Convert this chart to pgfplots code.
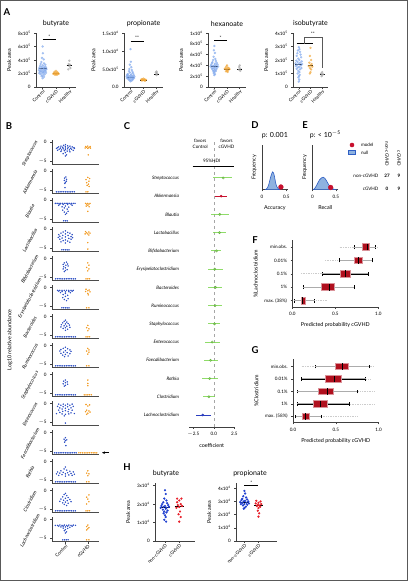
\documentclass[border=0pt]{standalone}
\usepackage{fontspec}
\setmainfont{Lato}
\usepackage{pgfplots}
\pgfplotsset{compat=1.18}
\usepgfplotslibrary{statistics}
\usetikzlibrary{arrows.meta}

\newcommand{\ft}{\fontsize{4.6}{5.5}\selectfont}
\newcommand{\fs}{\fontsize{4.8}{5.8}\selectfont}
\newcommand{\fl}{\fontsize{5.4}{6.4}\selectfont}
\newcommand{\fT}{\fontsize{7}{8}\selectfont}
\newcommand{\fP}{\fontsize{9.5}{10}\selectfont\bfseries}
\newcommand{\e}[1]{\textsuperscript{#1}}

\definecolor{ablue}{HTML}{7FA8EE}
\definecolor{aorange}{HTML}{F2A93B}
\definecolor{agray}{HTML}{A8A8A8}
\definecolor{bblue}{HTML}{2D4FC4}
\definecolor{borange}{HTML}{F39A1E}
\definecolor{cgreen}{HTML}{7CD64F}
\definecolor{cred}{HTML}{C8102E}
\definecolor{cblue}{HTML}{2A3DBF}
\definecolor{boxred}{HTML}{B0101E}
\definecolor{hblue}{HTML}{2040D0}
\definecolor{hred}{HTML}{E8202A}
\definecolor{nullblue}{HTML}{8EB2E0}
\definecolor{nulledge}{HTML}{2F5FC4}

\pgfplotsset{
 pr/.style={scale only axis, axis x line*=bottom, axis y line*=left, tick align=outside, clip=false,
   /pgf/number format/assume math mode=true,
   tick label style={font=\ft}, label style={font=\fl}, title style={font=\fT},
   major tick length=1.8pt, axis line style={line width=0.6pt, black!75},
   every tick/.style={black!75, line width=0.5pt}},
 pa/.style={pr, height=54pt, xmin=-0.5, xmax=2.5, ymin=0, xtick={0,1,2},
   xticklabels={Control,cGVHD,Healthy},
   xticklabel style={rotate=45, anchor=north east, inner sep=0.5pt},
   ylabel={Peak area}, title style={yshift=-3pt}},
 sa/.style={only marks, mark=*, mark size=1pt, fill opacity=0.6, draw opacity=0.6},
 bpan/.style={pr, width=47pt, height=25pt, xmin=-0.6, xmax=1.5, ymin=-5.9, ymax=0.7,
   ytick={-5,0}, yticklabels={{$-$5},0}, xtick=\empty,
   x axis line style={line width=0.9pt, black!70}},
 hp/.style={pr, xtick={0,1}, xticklabels={non-cGVHD,cGVHD},
   xticklabel style={rotate=45, anchor=north east, inner sep=0.5pt}, ylabel={Peak area}},
 bxp/.style={pr, xmin=0, xmax=1, ymin=0.5, xtick={0,0.5,1}, xticklabels={0.0,0.5,1.0},
   ytick={1,2,3,4,5}, xlabel={Predicted probability cGVHD},
   boxplot/every box/.style={draw=boxred!45, fill=boxred, line width=0.7pt},
   boxplot/every median/.style={black, line width=1pt},
   boxplot/every whisker/.style={black, line width=0.5pt}},
}

\newcommand{\bpanel}[5]{%
\begin{axis}[bpan, at={(52pt,#2pt)}, anchor=south west, #1]
\addplot[only marks, mark=*, mark size=0.5pt, bblue] coordinates {#4};
\addplot[only marks, mark=*, mark size=0.5pt, borange] coordinates {#5};
\end{axis}
\node[rotate=62, font=\fs\itshape, inner sep=0pt] at (30pt,{#2pt+11.5pt}) {#3};
}

\newcommand{\brow}[8]{%
 \addplot[gray!40, densely dotted, line width=0.7pt] coordinates {(#2,#1) (#8,#1)};
 \addplot[boxplot prepared={draw position=#1, lower whisker=#3, lower quartile=#4, median=#5, upper quartile=#6, upper whisker=#7, box extend=0.5, whisker extend=0.3}] coordinates {};
 \addplot[gray!65, line width=0.9pt] coordinates {(#3,#1) (#4,#1)};
 \addplot[gray!65, line width=0.9pt] coordinates {(#6,#1) (#7,#1)};
}

\begin{document}
\begin{tikzpicture}
\useasboundingbox (0,0) rectangle (408pt,581pt);
\fill[white] (0,0) rectangle (408pt,581pt);

% ---------- panel letters ----------
\node[font=\fP] at (7pt,{581pt-12pt}) {A};
\node[font=\fP] at (9pt,{581pt-126pt}) {B};
\node[font=\fP] at (127pt,{581pt-126pt}) {C};
\node[font=\fP] at (255pt,{581pt-125pt}) {D};
\node[font=\fP] at (305pt,{581pt-125pt}) {E};
\node[font=\fP] at (255pt,{581pt-240pt}) {F};
\node[font=\fP] at (255pt,{581pt-350pt}) {G};
\node[font=\fP] at (127pt,{581pt-467pt}) {H};

% ================= A =================
\begin{axis}[pa, at={(36pt,494pt)}, anchor=south west, width=40pt, ymax=8,
  ytick={0,2,4,6,8}, yticklabels={0,2x10\e{5},4x10\e{5},6x10\e{5},8x10\e{5}}, title={butyrate}]
\addplot[sa, ablue] coordinates {(0,6.0)(0.02,5.0)(-0.05,4.3)(0.08,4.1)(-0.1,3.7)(0.1,3.5)(-0.15,3.4)(0.2,3.3)(0,3.2)(-0.2,3.1)(0.15,3.0)(-0.08,2.95)(0.25,2.9)(0.05,2.85)(-0.25,2.8)(0.12,2.75)(-0.15,2.7)(0.28,2.65)(-0.02,2.6)(0.18,2.55)(-0.28,2.5)(0.08,2.45)(-0.12,2.4)(0.22,2.35)(-0.2,2.3)(0.02,2.25)(0.12,2.2)(-0.08,2.15)(0.25,2.1)(-0.25,2.05)(0.05,2.0)(-0.15,1.9)(0.15,1.85)(0,1.7)(-0.08,1.6)(0.1,1.5)(0,1.3)};
\addplot[sa, aorange] coordinates {(1,2.4)(0.9,2.25)(1.1,2.2)(0.85,2.1)(1.0,2.1)(1.15,2.05)(0.92,2.0)(1.08,1.98)(0.8,1.95)(1.2,1.95)(1.0,1.9)(0.9,1.85)(1.1,1.85)(1.0,1.8)};
\addplot[sa, agray] coordinates {(2,3.9)(1.95,3.4)(2.05,3.3)(2,3.1)(1.92,2.6)(2.08,2.8)};
\addplot[black, line width=0.7pt] coordinates {(-0.3,2.7)(0.3,2.7)};
\addplot[black, line width=0.7pt] coordinates {(0.75,2.05)(1.25,2.05)};
\addplot[black, line width=0.7pt] coordinates {(1.8,3.2)(2.2,3.2)};
\addplot[black, line width=0.6pt] coordinates {(0,7)(1,7)};
\node[font=\ft] at (axis cs:0.5,7.45) {*};
\end{axis}

\begin{axis}[pa, at={(124pt,494pt)}, anchor=south west, width=39pt, ymax=15,
  ytick={0,5,10,15}, yticklabels={0.0,5.0x10\e{5},1.0x10\e{6},1.5x10\e{6}}, title={propionate}]
\addplot[sa, ablue] coordinates {(0,10.5)(0.03,7.0)(-0.05,6.2)(0.06,5.5)(-0.08,5.0)(0.1,4.7)(-0.12,4.4)(0.15,4.2)(-0.05,4.0)(0.2,3.8)(-0.2,3.6)(0.05,3.5)(-0.25,3.4)(0.25,3.3)(0,3.2)(-0.15,3.1)(0.15,3.0)(-0.3,3.0)(0.3,2.9)(-0.05,2.8)(0.1,2.8)(-0.2,2.7)(0.22,2.6)(0,2.6)(-0.28,2.5)(0.28,2.5)(-0.1,2.4)(0.12,2.3)(-0.18,2.2)(0.18,2.1)(0,2.0)(-0.1,1.9)(0.1,1.8)(0,1.6)};
\addplot[sa, aorange] coordinates {(1,2.3)(0.9,2.2)(1.1,2.1)(0.82,2.05)(1,2.0)(1.18,2.0)(0.9,1.95)(1.1,1.9)(0.95,1.9)(1.05,1.85)(0.88,1.8)(1.12,1.75)};
\addplot[sa, agray] coordinates {(2,4.3)(1.95,4.0)(2.05,3.8)(2,3.6)(2,3.3)};
\addplot[black, line width=0.7pt] coordinates {(-0.3,2.8)(0.3,2.8)};
\addplot[black, line width=0.7pt] coordinates {(0.75,1.95)(1.25,1.95)};
\addplot[black, line width=0.7pt] coordinates {(1.8,3.6)(2.2,3.6)};
\addplot[black, line width=0.6pt] coordinates {(0,12.8)(1,12.8)};
\node[font=\ft] at (axis cs:0.5,13.6) {**};
\end{axis}

\begin{axis}[pa, at={(208pt,494pt)}, anchor=south west, width=38pt, ymax=10,
  ytick={0,2,4,6,8,10}, yticklabels={0,2x10\e{5},4x10\e{5},6x10\e{5},8x10\e{5},1x10\e{6}}, title={hexanoate}]
\addplot[sa, ablue] coordinates {(0,7.6)(-0.04,6.8)(0.05,6.3)(-0.06,5.6)(0.08,5.2)(-0.1,5.0)(0.12,4.8)(-0.15,4.6)(0.18,4.5)(-0.2,4.4)(0.05,4.3)(0.25,4.2)(-0.25,4.1)(0,4.0)(0.15,4.0)(-0.12,3.9)(0.3,3.8)(-0.3,3.8)(0.08,3.7)(-0.05,3.6)(0.2,3.5)(-0.2,3.5)(0.02,3.4)(-0.15,3.3)(0.15,3.2)(0,3.1)(-0.1,3.0)(0.1,2.9)(0,2.8)(-0.05,2.6)(0.05,2.4)(0,2.2)};
\addplot[sa, aorange] coordinates {(1,4.0)(0.95,3.8)(1.08,3.6)(0.88,3.5)(1.15,3.45)(1,3.4)(0.82,3.35)(1.2,3.3)(0.95,3.2)(1.07,3.1)(1,3.0)(0.92,2.9)(1.05,2.8)};
\addplot[sa, agray] coordinates {(2,4.0)(1.95,3.7)(2.05,3.4)(1.95,3.2)(2.05,3.0)};
\addplot[black, line width=0.7pt] coordinates {(-0.3,3.9)(0.3,3.9)};
\addplot[black, line width=0.7pt] coordinates {(0.75,3.35)(1.25,3.35)};
\addplot[black, line width=0.7pt] coordinates {(1.8,3.35)(2.2,3.35)};
\addplot[black, line width=0.6pt] coordinates {(0,8.7)(1,8.7)};
\node[font=\ft] at (axis cs:0.5,9.2) {*};
\end{axis}

\begin{axis}[pa, at={(293pt,494pt)}, anchor=south west, width=35pt, ymax=4,
  ytick={0,1,2,3,4}, yticklabels={0,1x10\e{5},2x10\e{5},3x10\e{5},4x10\e{5}}, title={isobutyrate}]
\addplot[sa, ablue] coordinates {(0,2.95)(0.05,2.8)(-0.08,2.7)(0.1,2.6)(-0.12,2.5)(0.15,2.4)(-0.18,2.3)(0.2,2.2)(-0.05,2.1)(0.05,2.0)(-0.22,1.95)(0.25,1.9)(-0.1,1.85)(0.12,1.8)(-0.28,1.75)(0.28,1.7)(0,1.7)(-0.15,1.65)(0.18,1.6)(-0.25,1.55)(0.05,1.5)(-0.08,1.45)(0.22,1.4)(-0.18,1.35)(0.1,1.3)(-0.05,1.2)(0.05,1.1)(-0.1,1.0)(0.08,0.9)(0,0.8)(-0.04,0.7)(0.04,0.55)(0,0.4)};
\addplot[sa, aorange] coordinates {(1,2.9)(0.95,2.3)(1.05,2.0)(0.9,1.8)(1.1,1.7)(1,1.6)(0.85,1.55)(1.15,1.5)(0.95,1.4)(1.05,1.3)(1,1.1)(0.95,1.0)};
\addplot[sa, agray] coordinates {(2,1.1)(1.92,1.0)(2.08,0.95)(2,0.9)(1.95,0.8)};
\addplot[black, line width=0.7pt] coordinates {(-0.3,1.65)(0.3,1.65)};
\addplot[black, line width=0.7pt] coordinates {(0.75,1.58)(1.25,1.58)};
\addplot[black, line width=0.7pt] coordinates {(1.8,0.92)(2.2,0.92)};
\addplot[black, line width=0.6pt] coordinates {(-0.18,3.2)(1.24,3.2)};
\addplot[gray!70!black, line width=0.6pt] coordinates {(0.45,3.2)(0.45,3.7)(2.0,3.7)(2.0,1.4)};
\node[font=\ft] at (axis cs:1.2,3.95) {**};
\end{axis}

% ================= B =================
\node[rotate=90, font=\fl] at (10pt,{581pt-340pt}) {Log10 relative abundance};
\bpanel{}{416.3}{Streptococcus}
{(0,-0.6)(-0.08,-0.8)(0.1,-0.9)(-0.2,-1.0)(0.2,-1.0)(0,-1.1)(-0.3,-1.2)(0.3,-1.2)(-0.12,-1.3)(0.12,-1.3)(-0.35,-1.4)(0.38,-1.4)(0,-1.5)(-0.22,-1.5)(0.22,-1.55)(-0.4,-1.6)(0.4,-1.6)(-0.1,-1.7)(0.1,-1.7)(-0.28,-1.8)(0.28,-1.8)(0,-1.9)(-0.18,-2.0)(0.18,-2.0)(-0.35,-2.1)(0.35,-2.1)(-0.05,-2.2)(0.08,-2.3)(-0.2,-2.4)(0.2,-2.5)(0,-2.7)(-0.1,-3.0)(0.05,-3.3)(0,-3.6)}
{(1,-1.0)(0.9,-1.1)(1.1,-1.1)(0.95,-1.3)(1.05,-1.4)(0.88,-1.5)(1.12,-1.5)(1,-1.6)(1.02,-3.3)}
\bpanel{}{387.3}{Akkermansia}
{(-0.4,-5.4)(-0.32,-5.4)(-0.24,-5.4)(-0.16,-5.4)(-0.08,-5.4)(0,-5.4)(0.08,-5.4)(0.16,-5.4)(0.24,-5.4)(0.32,-5.4)(0.4,-5.4)(0.02,-1.5)(-0.04,-1.8)(0.05,-2.1)(-0.05,-2.4)(0.04,-2.6)(0,-2.9)(-0.03,-3.2)(-0.02,-4.3)}
{(1,-1.6)(1.08,-1.9)(0.92,-2.2)(1.05,-2.6)(0.95,-3.0)(1.03,-3.4)(0.97,-3.7)(1.06,-4.0)(0.92,-5.4)(1.0,-5.4)}
\bpanel{}{358.3}{Blautia}
{(-0.45,-0.8)(-0.37,-0.8)(-0.29,-0.8)(-0.21,-0.8)(-0.13,-0.8)(-0.05,-0.8)(0.03,-0.8)(0.11,-0.8)(0.19,-0.8)(0.27,-0.8)(0.35,-0.8)(0.43,-0.8)(-0.25,-1.0)(0.25,-1.0)(-0.1,-1.1)(0.1,-1.1)(-0.3,-1.3)(0.3,-1.3)(0,-1.5)(-0.15,-1.7)(0.15,-1.8)(-0.05,-2.0)(0.08,-2.3)(-0.12,-2.6)(0.12,-2.9)(-0.05,-3.1)(0.05,-3.4)(0,-3.7)(-0.08,-5.4)(0,-5.4)(0.08,-5.4)}
{(0.9,-0.8)(1.0,-0.8)(1.1,-0.8)(0.95,-1.0)(1.05,-1.0)(1,-1.3)(0.93,-1.5)(1.06,-1.7)(1,-2.9)}
\bpanel{}{329.3}{Lactobacillus}
{(0,-0.4)(-0.1,-0.7)(0.1,-0.8)(-0.2,-1.0)(0.2,-1.0)(0,-1.2)(-0.3,-1.4)(0.3,-1.4)(-0.12,-1.6)(0.12,-1.6)(-0.25,-1.8)(0.25,-1.9)(0,-2.0)(-0.32,-2.1)(0.32,-2.2)(-0.15,-2.3)(0.15,-2.4)(-0.25,-2.6)(0.25,-2.6)(0,-2.8)(-0.1,-3.0)(0.1,-3.1)(-0.2,-3.3)(0.2,-3.4)(0,-3.6)(-0.16,-5.4)(-0.08,-5.4)(0,-5.4)(0.08,-5.4)(0.16,-5.4)}
{(0.9,-0.6)(1.05,-0.7)(0.95,-0.9)(1.1,-1.0)(1,-1.2)(0.88,-1.2)(1.05,-1.5)(1,-3.5)(1,-5.2)}
\bpanel{}{300.3}{Bifidobacterium}
{(0.05,-1.0)(-0.05,-1.2)(0.1,-1.5)(-0.1,-1.6)(0.02,-1.8)(0.12,-2.0)(-0.08,-2.2)(0,-2.5)(-0.1,-2.8)(0.08,-3.0)(0,-3.2)(-0.05,-3.5)(-0.44,-5.4)(-0.36,-5.4)(-0.28,-5.4)(-0.2,-5.4)(-0.12,-5.4)(-0.04,-5.4)(0.04,-5.4)(0.12,-5.4)(0.2,-5.4)(0.28,-5.4)(0.36,-5.4)(0.44,-5.4)}
{(1,-1.2)(1.05,-1.8)(0.95,-2.4)(1.05,-2.8)(1,-3.3)(0.92,-5.4)(1.0,-5.4)(1.08,-5.4)}
\bpanel{}{271.3}{Erysipelatoclostridium}
{(-0.35,-0.8)(-0.25,-0.8)(-0.15,-0.8)(-0.05,-0.8)(0.05,-0.8)(0.15,-0.8)(0.25,-0.8)(0.35,-0.8)(-0.3,-1.0)(0.3,-1.0)(-0.15,-1.1)(0.15,-1.1)(0,-1.2)(-0.22,-1.4)(0.22,-1.4)(0,-1.6)(-0.1,-1.9)(0.1,-2.1)(0,-2.4)(-0.12,-2.7)(0.12,-3.0)(-0.05,-3.2)(0.05,-3.5)(-0.16,-5.4)(-0.08,-5.4)(0,-5.4)(0.08,-5.4)(0.16,-5.4)}
{(0.92,-0.5)(1.06,-0.7)(1,-0.9)(0.9,-1.1)(1.1,-1.2)(1,-1.6)(1.02,-2.0)(0.95,-5.4)(1.05,-5.4)}
\bpanel{}{242.3}{Bacteroides}
{(0,-1.0)(-0.06,-1.3)(0.06,-1.5)(-0.12,-1.7)(0.12,-1.9)(0,-2.0)(-0.18,-2.2)(0.18,-2.3)(-0.06,-2.5)(0.06,-2.6)(-0.2,-2.8)(0.2,-2.9)(0,-3.0)(-0.1,-3.2)(0.1,-3.4)(0,-3.7)(-0.44,-5.4)(-0.36,-5.4)(-0.28,-5.4)(-0.2,-5.4)(-0.12,-5.4)(-0.04,-5.4)(0.04,-5.4)(0.12,-5.4)(0.2,-5.4)(0.28,-5.4)(0.36,-5.4)(0.44,-5.4)}
{(1,-2.4)(0.95,-3.0)(1.05,-3.3)(1,-3.8)(0.92,-5.4)(1,-5.4)(1.08,-5.4)}
\bpanel{}{213.3}{Ruminococcus}
{(0,-0.5)(-0.1,-0.8)(0.1,-0.9)(-0.2,-1.1)(0.2,-1.2)(0,-1.4)(-0.25,-1.5)(0.25,-1.6)(-0.08,-1.8)(0.08,-1.9)(-0.2,-2.1)(0.2,-2.2)(0,-2.4)(-0.12,-2.6)(0.12,-2.8)(-0.04,-3.0)(-0.44,-5.4)(-0.36,-5.4)(-0.28,-5.4)(-0.2,-5.4)(-0.12,-5.4)(-0.04,-5.4)(0.04,-5.4)(0.12,-5.4)(0.2,-5.4)(0.28,-5.4)(0.36,-5.4)(0.44,-5.4)}
{(1,-0.8)(1.05,-1.2)(0.95,-1.5)(1.05,-1.8)(1,-2.3)(0.95,-5.4)(1.05,-5.4)}
\bpanel{}{184.3}{Staphylococcus}
{(0,-1.5)(-0.08,-1.8)(0.08,-2.0)(0,-2.2)(-0.1,-2.5)(0.1,-2.6)(0,-2.9)(-0.05,-3.1)(-0.44,-5.4)(-0.36,-5.4)(-0.28,-5.4)(-0.2,-5.4)(-0.12,-5.4)(-0.04,-5.4)(0.04,-5.4)(0.12,-5.4)(0.2,-5.4)(0.28,-5.4)(0.36,-5.4)(0.44,-5.4)}
{(1,-1.5)(1,-2.4)(1,-3.0)(0.84,-5.4)(0.92,-5.4)(1,-5.4)(1.08,-5.4)(1.16,-5.4)}
\bpanel{}{155.3}{Enterococcus}
{(-0.3,-0.2)(-0.1,-0.2)(0.1,-0.2)(0.3,-0.2)(-0.2,-0.5)(0,-0.5)(0.2,-0.5)(-0.35,-0.8)(0.35,-0.8)(-0.1,-0.9)(0.1,-0.9)(-0.25,-1.2)(0.25,-1.2)(0,-1.3)(-0.15,-1.5)(0.15,-1.6)(-0.3,-1.8)(0.3,-1.8)(0,-1.9)(-0.12,-2.1)(0.12,-2.2)(-0.25,-2.4)(0.25,-2.5)(-0.4,-2.7)(0.4,-2.7)(-0.15,-2.8)(0.15,-2.8)(0,-2.9)(-0.05,-3.3)(0,-5.2)}
{(0.92,-0.3)(1.08,-0.4)(1,-0.7)(0.95,-1.8)(1.05,-2.0)(0.9,-2.2)(1.1,-2.3)(1,-2.6)(0.95,-2.9)}
\bpanel{}{126.3}{Faecalibacterium}
{(0,-1.4)(-0.06,-1.8)(0.06,-2.0)(0,-2.2)(-0.04,-2.6)(0.02,-3.5)(-0.48,-5.4)(-0.4,-5.4)(-0.32,-5.4)(-0.24,-5.4)(-0.16,-5.4)(-0.08,-5.4)(0,-5.4)(0.08,-5.4)(0.16,-5.4)(0.24,-5.4)(0.32,-5.4)(0.4,-5.4)(0.48,-5.4)}
{(0.6,-5.4)(0.68,-5.4)(0.76,-5.4)(0.84,-5.4)(0.92,-5.4)(1,-5.4)(1.08,-5.4)(1.16,-5.4)(1.24,-5.4)(1.32,-5.4)(1.4,-5.4)}
\bpanel{}{97.3}{Rothia}
{(0,-1.5)(-0.06,-2.0)(0.06,-2.3)(-0.2,-2.5)(0.2,-2.6)(-0.35,-2.8)(0.35,-2.8)(-0.1,-2.9)(0.1,-3.0)(-0.25,-3.1)(0.25,-3.2)(0,-3.3)(-0.4,-3.3)(0.4,-3.4)(-0.15,-3.5)(0.15,-3.6)(-0.3,-3.7)(0.3,-3.7)(0,-3.9)(-0.44,-5.4)(-0.36,-5.4)(-0.28,-5.4)(-0.2,-5.4)(-0.12,-5.4)(-0.04,-5.4)(0.04,-5.4)(0.12,-5.4)(0.2,-5.4)(0.28,-5.4)(0.36,-5.4)(0.44,-5.4)}
{(1,-2.5)(0.95,-3.1)(1.05,-3.3)(1,-3.8)(0.95,-5.4)(1.05,-5.4)}
\bpanel{}{68.3}{Clostridium}
{(0,-0.8)(-0.06,-1.1)(0.06,-1.4)(-0.12,-1.7)(0.12,-1.9)(0,-2.1)(-0.2,-2.3)(0.2,-2.4)(-0.08,-2.6)(0.08,-2.7)(-0.25,-2.9)(0.25,-3.0)(0,-3.1)(-0.12,-3.3)(0.12,-3.4)(-0.05,-3.7)(0.05,-4.0)(-0.44,-5.4)(-0.36,-5.4)(-0.28,-5.4)(-0.2,-5.4)(-0.12,-5.4)(-0.04,-5.4)(0.04,-5.4)(0.12,-5.4)(0.2,-5.4)(0.28,-5.4)(0.36,-5.4)(0.44,-5.4)}
{(1.05,-1.2)(0.95,-1.8)(1,-2.3)(1.05,-3.0)(0.95,-3.6)(0.92,-5.4)(1,-5.4)(1.08,-5.4)}
\bpanel{xtick={0,1}, xticklabels={Control,cGVHD}, xticklabel style={rotate=45, anchor=north east, inner sep=0.5pt}}{39.3}{Lachnoclostridium}
{(-0.45,-1.6)(-0.35,-1.6)(-0.25,-1.5)(-0.15,-1.6)(-0.05,-1.5)(0.05,-1.6)(0.15,-1.5)(0.25,-1.6)(0.35,-1.5)(0.45,-1.6)(-0.3,-1.8)(-0.1,-1.8)(0.1,-1.8)(0.3,-1.8)(-0.2,-2.0)(0,-2.0)(0.2,-2.1)(-0.1,-2.3)(0.1,-2.4)(0,-2.7)(-0.05,-3.0)(0.05,-3.3)(0,-3.6)(-0.12,-5.4)(-0.04,-5.4)(0.04,-5.4)(0.12,-5.4)}
{(1,-1.5)(0.95,-1.9)(1.05,-2.2)(1,-2.5)(0.95,-2.8)(0.95,-5.4)(1.05,-5.4)}
\draw[-{Stealth[length=3pt, width=2.6pt]}, line width=0.4pt] (109pt,{581pt-452.7pt}) -- (102pt,{581pt-452.7pt});

% ================= C =================
\begin{axis}[pr, at={(189.2pt,154pt)}, anchor=south west, width=45.1pt, height=287pt,
  xmin=-3, xmax=2.5, ymin=0.344, ymax=16.08,
  xtick={-2.5,0,2.5}, xticklabels={$-$2.5,0.0,2.5}, xlabel={coefficient},
  ytick={1,...,14}, yticklabels={Lachnoclostridium,Clostridium,Rothia,Faecalibacterium,Enterococcus,Staphylococcus,Ruminococcus,Bacteroides,Erysipelatoclostridium,Bifidobacterium,Lactobacillus,Blautia,Akkermansia,Streptococcus},
  yticklabel style={font=\ft\itshape, xshift=-5pt},
  y axis line style={draw=none}, ytick style={draw=none}]
\addplot[gray!70, dashed, line width=0.5pt] coordinates {(0,0.344)(0,16.08)};
\addplot[only marks, mark=o, mark size=1.1pt, cgreen!85!black, mark options={fill=white, line width=0.5pt},
  error bars/.cd, x dir=both, x explicit, error mark=none,
  error bar style={cgreen, line width=1pt, opacity=0.85}]
  table[x=m, y=r, x error minus=em, x error plus=ep] {
m r em ep
1.14 14 1.24 1.06
0.73 12 1.13 1.17
0.70 11 0.80 0.80
0.33 10 0.63 0.57
0.12 9 0.82 0.98
0.20 8 0.85 0.75
0.16 7 0.81 0.79
0.08 6 0.73 0.72
-0.20 5 0.90 0.90
-0.40 4 0.80 0.90
-0.50 3 0.90 1.00
-0.60 2 0.70 0.80
};
\addplot[only marks, mark=*, mark size=1.1pt, cred,
  error bars/.cd, x dir=both, x explicit, error mark=none,
  error bar style={cred, line width=1pt}]
  table[x=m, y=r, x error minus=em, x error plus=ep] {
m r em ep
0.90 13 0.70 0.70
};
\addplot[only marks, mark=*, mark size=1.1pt, cblue,
  error bars/.cd, x dir=both, x explicit, error mark=none,
  error bar style={cblue, line width=1pt}]
  table[x=m, y=r, x error minus=em, x error plus=ep] {
m r em ep
-1.35 1 0.85 0.95
};
\node[font=\ft, align=center, inner sep=0pt] at (axis cs:-1.65,15.86) {favors\\Control};
\node[font=\ft, align=center, inner sep=0pt] at (axis cs:1.55,15.86) {favors\\cGVHD};
\node[font=\ft] at (axis cs:-0.26,14.95) {95\%HDI};
\draw[black, line width=0.7pt] (axis cs:-2.57,14.64) -- (axis cs:2.46,14.64);
\end{axis}

% ================= D =================
\begin{axis}[pr, at={(262pt,391.3pt)}, anchor=south west, width=25.7pt, height=44.7pt,
  xmin=0, xmax=0.53, ymin=0, ymax=1, ytick=\empty, xtick={0,0.5}, xticklabels={0,0.5},
  ylabel={Frequency}, xlabel={Accuracy}, title={p: 0.001}, title style={yshift=-3pt}]
\addplot[fill=nullblue, draw=nulledge, line width=0.6pt, smooth] coordinates {(0.07,0)(0.11,0.04)(0.14,0.12)(0.17,0.25)(0.2,0.36)(0.22,0.4)(0.24,0.37)(0.26,0.28)(0.28,0.16)(0.3,0.08)(0.33,0.03)(0.37,0)} \closedcycle;
\addplot[only marks, mark=*, mark size=2.4pt, cred] coordinates {(0.39,0.06)};
\end{axis}

% ================= E =================
\begin{axis}[pr, at={(312.5pt,391.3pt)}, anchor=south west, width=25.6pt, height=44.7pt,
  xmin=0, xmax=0.55, ymin=0, ymax=1, ytick=\empty, xtick={0,0.5}, xticklabels={0,0.5},
  ylabel={Frequency}, xlabel={Recall}, title={p: < 10\e{$-$5}}, title style={yshift=-3pt}]
\addplot[fill=nullblue, draw=nulledge, line width=0.6pt, smooth] coordinates {(0.02,0)(0.05,0.03)(0.1,0.12)(0.15,0.22)(0.2,0.27)(0.23,0.28)(0.27,0.25)(0.3,0.2)(0.35,0.11)(0.4,0.05)(0.45,0.015)(0.5,0)} \closedcycle;
\addplot[only marks, mark=*, mark size=2.4pt, cred] coordinates {(0.39,0.05)};
\end{axis}

% legend D/E
\fill[cred] (352pt,436pt) circle (2.3pt);
\filldraw[fill=nullblue, draw=nulledge, line width=0.5pt] (348.5pt,426.3pt) rectangle (355.5pt,430.3pt);
\node[font=\ft, anchor=west] at (357.5pt,436pt) {model};
\node[font=\ft, anchor=west] at (357.5pt,428.3pt) {null};

% confusion matrix
\node[font=\ft, rotate=-90, anchor=east] at (387pt,411pt) {non-cGVHD};
\node[font=\ft, rotate=-90, anchor=east] at (399pt,411pt) {cGVHD};
\node[font=\ft, anchor=east] at (382pt,405.3pt) {non-cGVHD};
\node[font=\ft, anchor=east] at (382pt,392pt) {cGVHD};
\node[font=\ft\bfseries] at (387pt,405.3pt) {27};
\node[font=\ft\bfseries] at (399pt,405.3pt) {9};
\node[font=\ft\bfseries] at (387pt,392pt) {0};
\node[font=\ft\bfseries] at (399pt,392pt) {9};

% ================= F =================
\begin{axis}[bxp, at={(292.3pt,273.7pt)}, anchor=south west, width=86pt, height=67pt, ymax=5.5,
  yticklabels={max. (38\%),1\%,0.1\%,0.01\%,min.obs.}, ylabel={\%Lachnoclostridium}]
\brow{5}{0.55}{0.72}{0.82}{0.875}{0.90}{0.97}{0.99}
\brow{4}{0.38}{0.55}{0.72}{0.77}{0.81}{0.93}{0.93}
\brow{3}{0.10}{0.35}{0.56}{0.62}{0.68}{0.88}{0.88}
\brow{2}{0.13}{0.13}{0.34}{0.43}{0.49}{0.72}{0.72}
\brow{1}{0.02}{0.02}{0.10}{0.12}{0.155}{0.26}{0.40}
\end{axis}

% ================= G =================
\begin{axis}[bxp, at={(293pt,158.3pt)}, anchor=south west, width=85.5pt, height=63.75pt, ymax=5.6,
  yticklabels={max. (58\%),1\%,0.1\%,0.01\%,min.obs.}, ylabel={\%Clostridium}]
\brow{5}{0.10}{0.26}{0.50}{0.58}{0.65}{0.89}{0.95}
\brow{4}{0.10}{0.10}{0.38}{0.48}{0.56}{0.85}{0.90}
\brow{3}{0.05}{0.05}{0.30}{0.40}{0.47}{0.75}{0.95}
\brow{2}{0.05}{0.05}{0.24}{0.32}{0.40}{0.66}{0.95}
\brow{1}{0.03}{0.03}{0.11}{0.15}{0.19}{0.33}{0.75}
\end{axis}

% ================= H =================
\node[font=\fT] at (166pt,{581pt-474pt}) {butyrate};
\node[font=\fT] at (250pt,{581pt-474pt}) {propionate};
\begin{axis}[hp, at={(155pt,40pt)}, anchor=south west, width=40pt, height=57.7pt,
  xmin=-0.7, xmax=2.1, ymin=0, ymax=3.13, ytick={0,1,2,3},
  yticklabels={0,1x10\e{4},2x10\e{4},3x10\e{4}}]
\addplot[only marks, mark=*, mark size=0.9pt, hblue] coordinates {(0,2.75)(0.05,2.55)(-0.05,2.3)(0.1,2.2)(-0.12,2.1)(0.15,2.05)(-0.2,2.0)(0.22,1.95)(0,1.9)(-0.25,1.9)(0.28,1.85)(-0.1,1.85)(0.1,1.8)(-0.3,1.8)(0.05,1.75)(-0.15,1.7)(0.18,1.65)(-0.05,1.6)(0.1,1.55)(-0.1,1.5)(0,1.4)(0.05,1.3)(-0.05,1.15)(0.08,1.05)};
\addplot[only marks, mark=*, mark size=0.9pt, hred] coordinates {(0.85,2.3)(1.15,2.3)(1,2.2)(0.85,2.1)(1.1,2.0)(0.9,1.95)(1.2,1.9)(1,1.85)(0.8,1.8)(1.05,1.6)(0.95,1.45)(1.1,1.3)(1,1.05)};
\addplot[black, line width=0.7pt] coordinates {(-0.32,1.83)(0.32,1.83)};
\addplot[black, line width=0.7pt] coordinates {(0.68,1.88)(1.32,1.88)};
\end{axis}

\begin{axis}[hp, at={(236pt,40pt)}, anchor=south west, width=40.7pt, height=58pt,
  xmin=-0.6, xmax=2.3, ymin=0, ymax=4.4, ytick={0,1,2,3,4},
  yticklabels={0,1x10\e{4},2x10\e{4},3x10\e{4},4x10\e{4}}]
\addplot[only marks, mark=*, mark size=0.9pt, hblue] coordinates {(0,3.8)(0.05,3.6)(-0.08,3.4)(0.12,3.3)(-0.15,3.2)(0.2,3.15)(-0.22,3.1)(0.05,3.05)(-0.05,3.0)(0.28,3.0)(-0.3,2.95)(0.15,2.9)(-0.15,2.9)(0.32,2.85)(0,2.8)(-0.25,2.8)(0.2,2.75)(-0.1,2.7)(0.1,2.6)(0,2.5)(-0.05,2.45)};
\addplot[only marks, mark=*, mark size=0.9pt, hred] coordinates {(0.85,3.05)(1.15,3.0)(1,2.9)(0.8,2.85)(1.2,2.8)(0.95,2.75)(1.05,2.7)(0.88,2.65)(1.12,2.6)(1,2.5)(0.95,2.3)(1.05,2.1)(1,1.85)};
\addplot[black, line width=0.7pt] coordinates {(-0.32,2.95)(0.32,2.95)};
\addplot[black, line width=0.7pt] coordinates {(0.68,2.7)(1.32,2.7)};
\addplot[black, line width=0.6pt] coordinates {(0,4.24)(1,4.24)};
\node[font=\ft] at (axis cs:0.5,4.45) {*};
\end{axis}

% frame
\draw[black!65, line width=1.4pt] (0.7pt,0.7pt) rectangle (407.3pt,580.3pt);
\end{tikzpicture}
\end{document}
